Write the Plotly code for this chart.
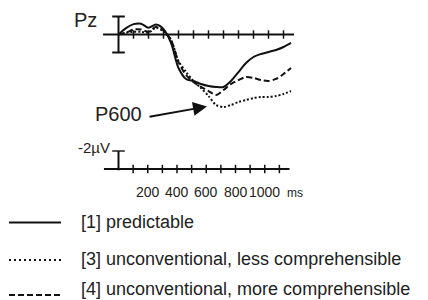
import plotly.graph_objects as go

# ---------------- data (ms, µV; positive values plotted downward) ----------------
time_ms = [0, 50, 100, 150, 200, 250, 300, 350, 400, 450, 500, 550,
           600, 650, 700, 750, 800, 850, 900, 950, 1000, 1050, 1100, 1150]
predictable = [0, -0.7, -1.15, -1.2, -0.75, -1.1, -0.6, 0.94, 3.72, 4.94, 5.17, 5.5,
               5.72, 5.83, 5.83, 5.17, 4.17, 3.17, 2.5, 2.17, 1.94, 1.72, 1.39, 0.94]
unconv_less = [0, -0.2, -0.3, -0.3, -0.2, -0.75, -0.35, 0.61, 2.94, 4.17, 5.17, 5.94,
               6.83, 7.83, 8.06, 7.83, 7.5, 7.28, 7.06, 6.94, 6.94, 6.83, 6.61, 6.28]
unconv_more = [0, -0.2, -0.55, -0.55, -0.3, -0.85, -0.45, 0.61, 3.06, 4.5, 5.28, 5.83,
               6.28, 6.72, 6.17, 5.5, 5.06, 4.72, 4.83, 5.06, 5.17, 4.94, 4.39, 3.72]
series_names = ["[1] predictable",
                "[3] unconventional, less comprehensible",
                "[4] unconventional, more comprehensible"]
axis_ticks_ms = [100, 200, 300, 400, 500, 600, 700, 800, 900, 1000, 1100]
tick_labels_ms = [200, 400, 600, 800, 1000]
scale_uv = 2

# ---------------- geometry / style ----------------
VIEW_W, VIEW_H = 428, 300
PAGE_MARGIN = 8                      # default body margin of the page
W, H = VIEW_W - PAGE_MARGIN, VIEW_H - PAGE_MARGIN
X0_PX, PX_PER_MS = 118.5, 0.15
Y0_PX, PX_PER_UV = 34.5, 9.0
BOTTOM_AXIS_PX = 169
BOTTOM_SCALE = 0.975
OFFSET_UV = (BOTTOM_AXIS_PX - Y0_PX) / PX_PER_UV
FONT = "Arial, Liberation Sans, sans-serif"
INK = "#111111"
TXT = "#222222"

x_range = [(PAGE_MARGIN - X0_PX) / PX_PER_MS, (VIEW_W - X0_PX) / PX_PER_MS]
y_range = [(VIEW_H - Y0_PX) / PX_PER_UV, (PAGE_MARGIN - Y0_PX) / PX_PER_UV]

def px2paper(xp, yp):
    return (xp - PAGE_MARGIN) / W, 1 - (yp - PAGE_MARGIN) / H

fig = go.Figure()

# top axis line + ticks
fig.add_trace(go.Scatter(x=[-103, 1170], y=[0, 0], mode="lines",
                         line=dict(color=INK, width=2), showlegend=False, hoverinfo="skip"))
fig.add_trace(go.Scatter(x=axis_ticks_ms, y=[0] * len(axis_ticks_ms), mode="markers",
                         marker=dict(symbol="line-ns", size=6, line=dict(color=INK, width=1.5)),
                         showlegend=False, hoverinfo="skip"))
# top scale bar
fig.add_trace(go.Scatter(x=[0, 0], y=[-scale_uv, scale_uv], mode="lines+markers",
                         line=dict(color=INK, width=2),
                         marker=dict(symbol="line-ew", size=9, line=dict(color=INK, width=2)),
                         showlegend=False, hoverinfo="skip"))

# waveforms
styles = [("solid", predictable), ("2px,2px", unconv_less), ("6px,3px", unconv_more)]
for name, (dash, vals) in zip(series_names, styles):
    fig.add_trace(go.Scatter(x=time_ms, y=vals, mode="lines", name=name,
                             line=dict(color=INK, width=2, dash=dash, shape="spline", smoothing=0.8),
                             showlegend=False))

# bottom scale axis
fig.add_trace(go.Scatter(x=[-97, 1140], y=[OFFSET_UV, OFFSET_UV], mode="lines",
                         line=dict(color=INK, width=2), showlegend=False, hoverinfo="skip"))
fig.add_trace(go.Scatter(x=[t * BOTTOM_SCALE for t in axis_ticks_ms],
                         y=[OFFSET_UV] * len(axis_ticks_ms), mode="markers",
                         marker=dict(symbol="line-ns", size=6, line=dict(color=INK, width=1.5)),
                         showlegend=False, hoverinfo="skip"))
fig.add_trace(go.Scatter(x=[0, 0], y=[OFFSET_UV - scale_uv, OFFSET_UV], mode="lines+markers",
                         line=dict(color=INK, width=2),
                         marker=dict(symbol=["line-ew", "circle"], size=[9, 1],
                                     line=dict(color=INK, width=2)),
                         showlegend=False, hoverinfo="skip"))

annotations = []
for t in tick_labels_ms:
    annotations.append(dict(x=t * BOTTOM_SCALE, y=OFFSET_UV + 23 / PX_PER_UV, xref="x", yref="y",
                            text=str(t), showarrow=False, xanchor="center", yanchor="middle",
                            font=dict(family=FONT, size=14, color=TXT)))
annotations.append(dict(x=1177, y=OFFSET_UV + 23.5 / PX_PER_UV, xref="x", yref="y", text="ms",
                        showarrow=False, xanchor="center", yanchor="middle",
                        font=dict(family=FONT, size=12, color=TXT)))

px, py = px2paper(99, 20)
annotations.append(dict(x=px, y=py, xref="paper", yref="paper", text="Pz", showarrow=False,
                        xanchor="right", yanchor="middle", font=dict(family=FONT, size=20, color=TXT)))
px, py = px2paper(112, 148)
annotations.append(dict(x=px, y=py, xref="paper", yref="paper", text="-2µV", showarrow=False,
                        xanchor="right", yanchor="middle", font=dict(family=FONT, size=15, color=TXT)))
px, py = px2paper(118, 114)
annotations.append(dict(x=px, y=py, xref="paper", yref="paper", text="P600", showarrow=False,
                        xanchor="center", yanchor="middle", font=dict(family=FONT, size=20, color=TXT)))
# arrow
annotations.append(dict(x=(207 - X0_PX) / PX_PER_MS, y=(106.5 - Y0_PX) / PX_PER_UV,
                        ax=(148 - X0_PX) / PX_PER_MS, ay=(117 - Y0_PX) / PX_PER_UV,
                        xref="x", yref="y", axref="x", ayref="y", text="", showarrow=True,
                        arrowhead=2, arrowsize=1.4, arrowwidth=2, arrowcolor=INK))

# manual legend
shapes = []
line_rows_px = [222.5, 260, 295]
text_rows_px = [222, 259.5, 289]
dashes = ["solid", "2px,3px", "6px,3px"]
for name, yl, yt, dash in zip(series_names, line_rows_px, text_rows_px, dashes):
    x1, y1 = px2paper(9, yl)
    x2, _ = px2paper(61, yl)
    shapes.append(dict(type="line", xref="paper", yref="paper", x0=x1, x1=x2, y0=y1, y1=y1,
                       line=dict(color=INK, width=2, dash=dash)))
    tx, ty = px2paper(80, yt)
    annotations.append(dict(x=tx, y=ty, xref="paper", yref="paper", text=name, showarrow=False,
                            xanchor="left", yanchor="middle", borderpad=0,
                            font=dict(family=FONT, size=18, color=TXT)))

fig.update_layout(
    width=W, height=H, margin=dict(l=0, r=0, t=0, b=0),
    paper_bgcolor="white", plot_bgcolor="white",
    xaxis=dict(range=x_range, visible=False, fixedrange=True),
    yaxis=dict(range=y_range, visible=False, fixedrange=True),
    annotations=annotations, shapes=shapes, showlegend=False,
)
fig.write_html("out.html")
